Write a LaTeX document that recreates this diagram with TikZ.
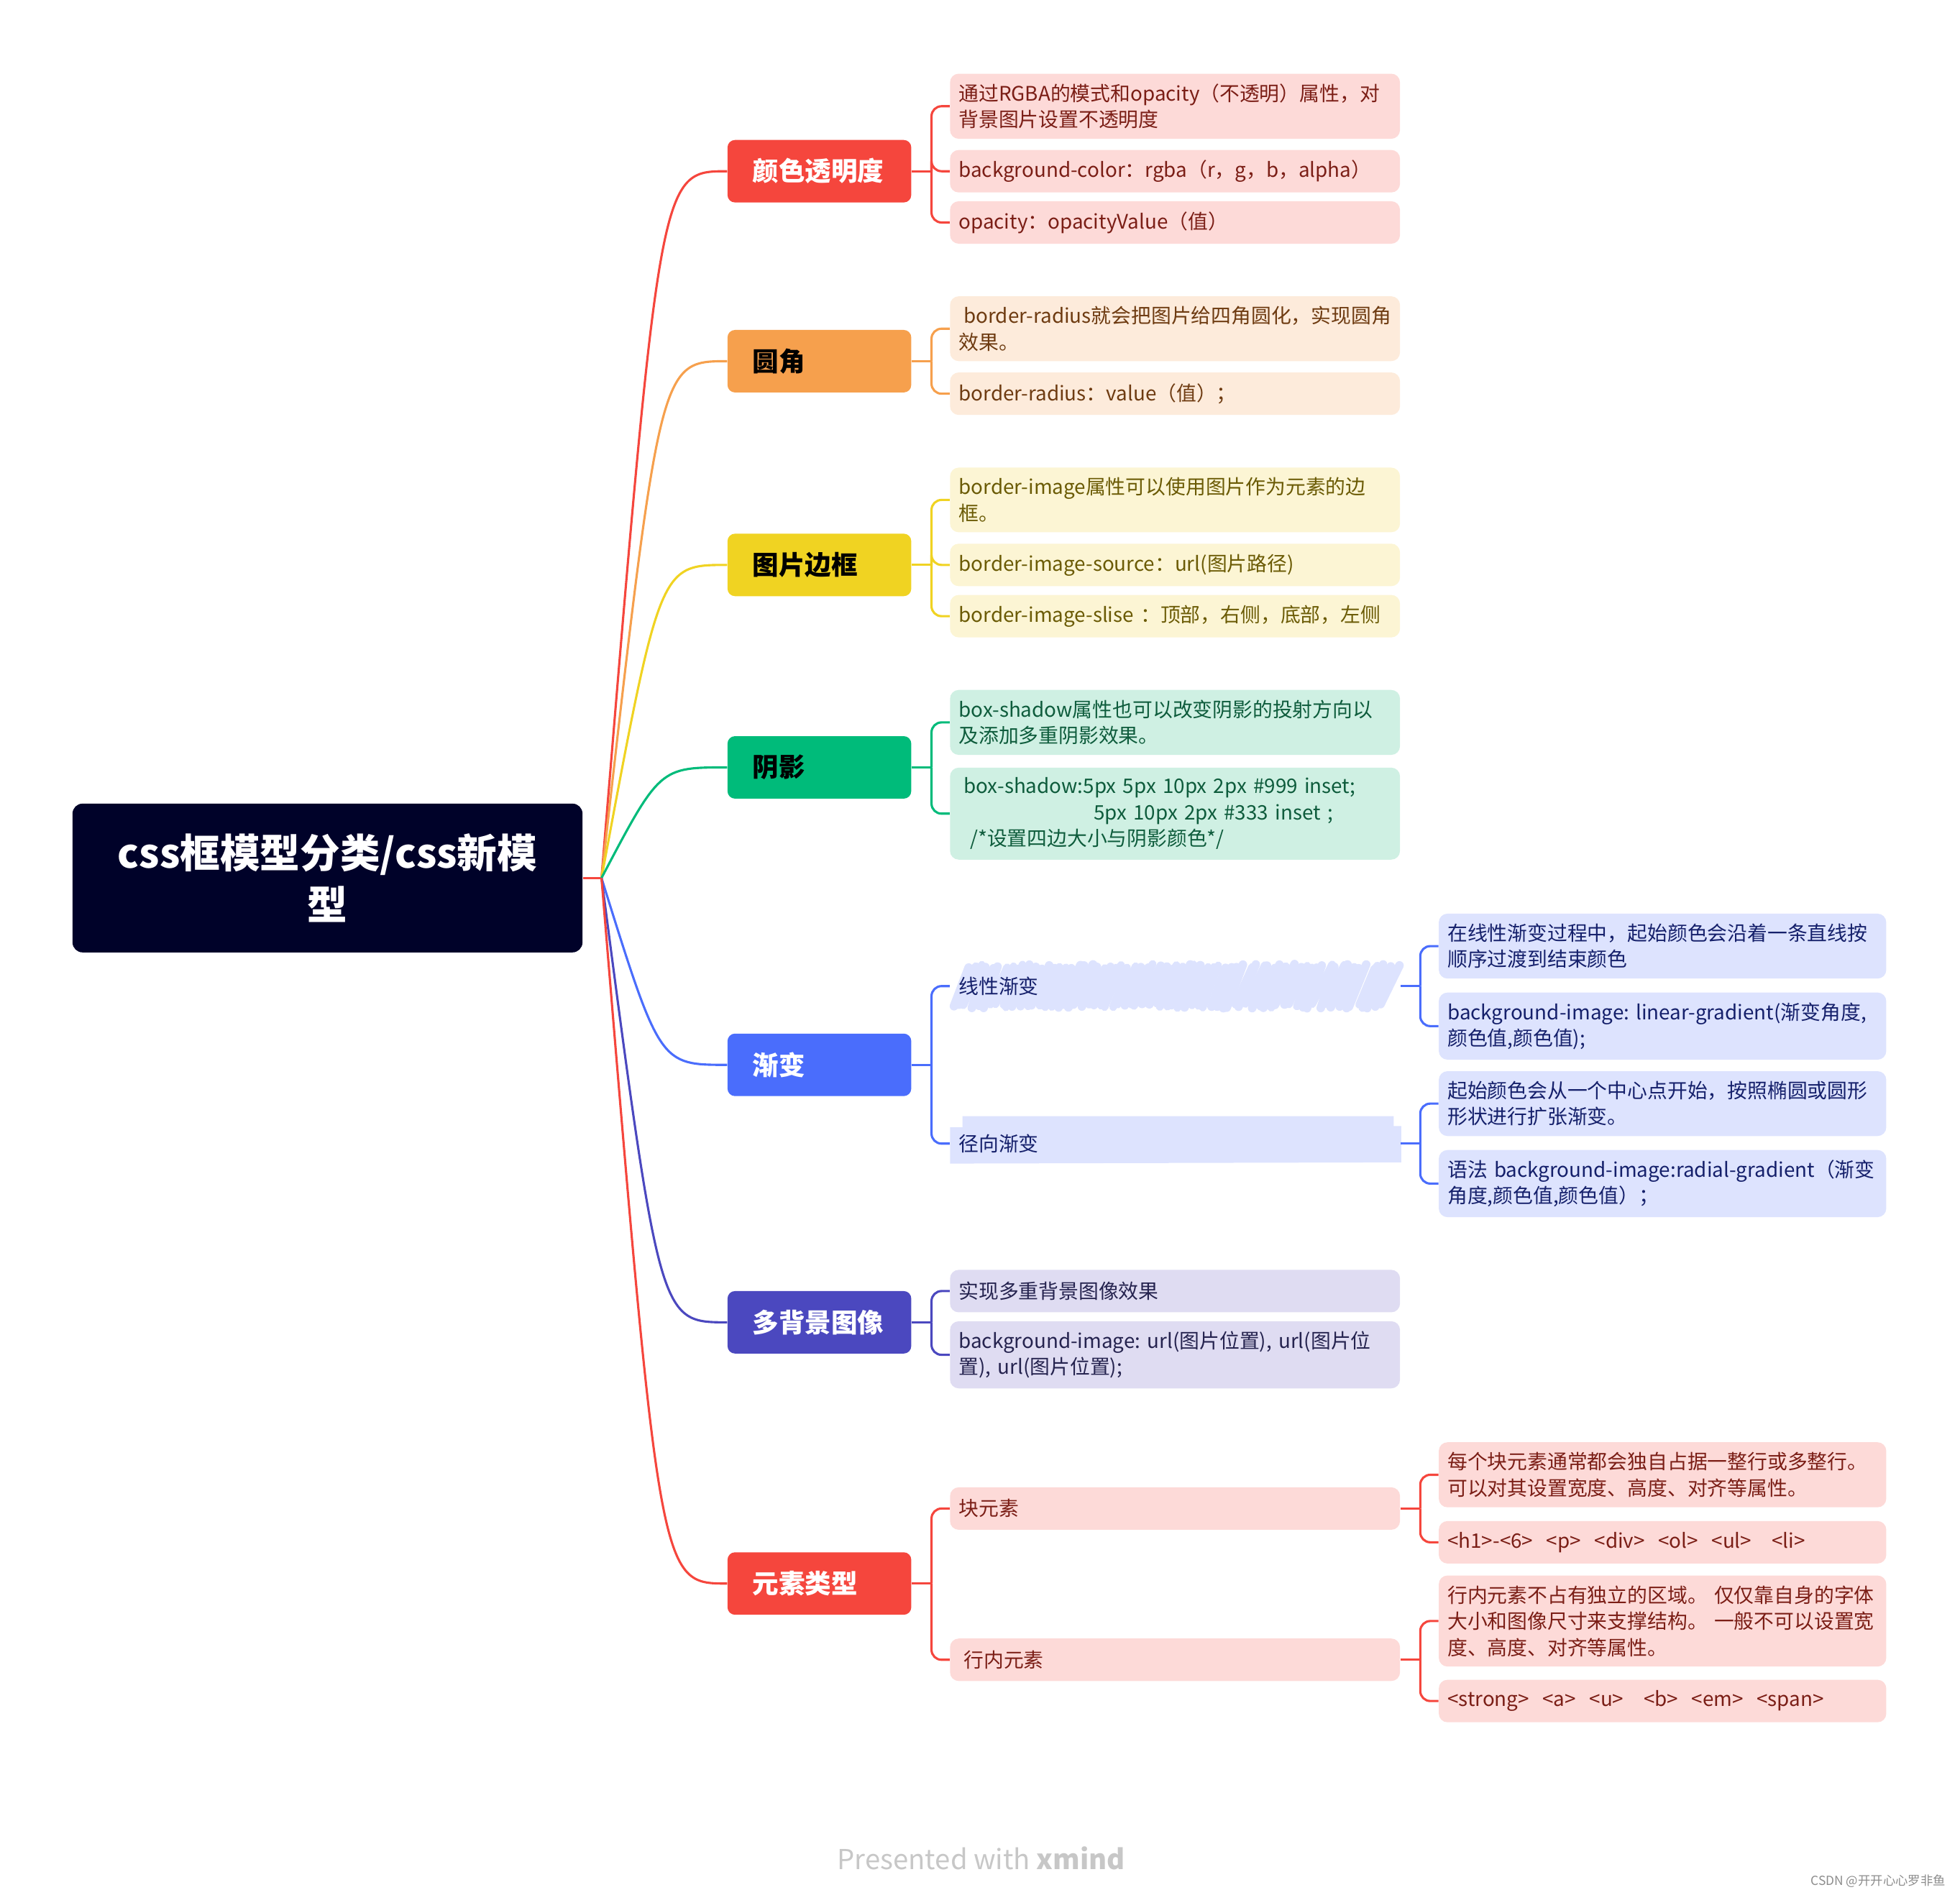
\documentclass[tikz,border=0pt]{standalone}
\usepackage{fontspec}
\setmainfont{Noto Sans CJK SC}
\usepackage{xcolor}
\usetikzlibrary{positioning}
\hyphenpenalty=10000
\exhyphenpenalty=10000

\definecolor{rootC}{HTML}{000229}
\definecolor{redC}{HTML}{F5463D}
\definecolor{orangeC}{HTML}{F6A04D}
\definecolor{yellowC}{HTML}{F0D322}
\definecolor{greenC}{HTML}{00BB7A}
\definecolor{blueC}{HTML}{4A6DFC}
\definecolor{indigoC}{HTML}{4B48BF}
\definecolor{redL}{HTML}{FDDAD8}
\definecolor{orangeL}{HTML}{FDEBDB}
\definecolor{yellowL}{HTML}{FCF5D4}
\definecolor{greenL}{HTML}{CFF0E3}
\definecolor{blueL}{HTML}{DDE3FE}
\definecolor{indigoL}{HTML}{DFDCF2}
\definecolor{redT}{HTML}{7B1E16}
\definecolor{orangeT}{HTML}{6E3B11}
\definecolor{yellowT}{HTML}{6B5B05}
\definecolor{greenT}{HTML}{0E5C3C}
\definecolor{blueT}{HTML}{15206B}
\definecolor{indigoT}{HTML}{25234F}

\begin{document}
\begin{tikzpicture}[x=1pt,y=-1pt,
  root/.style={fill=rootC,rounded corners=8,text=white,align=center,
               minimum width=408,minimum height=119,
               font=\fontsize{32}{41}\selectfont\bfseries},
  topic/.style={rounded corners=6,text width=107,inner xsep=20,
               minimum height=50,align=left,
               font=\fontsize{21}{26}\selectfont\bfseries},
  leaf/.style={rounded corners=7,text width=346,inner xsep=7,inner ysep=8,
               minimum height=34,align=left,
               font=\fontsize{16}{21}\selectfont},
  twig/.style={leaf,text width=344},
  link/.style={line width=1.8,rounded corners=8},
  trunk/.style={line width=1.8}
]
\useasboundingbox (0,0) rectangle (1568,1516);

% root
\node[root] (root) at (262,702.5) {css框模型分类/css新模\\型};
\coordinate[right=15pt of root] (rj);
\draw[link,redC] (root.east) -- (rj);

% main topics
\node[topic,fill=redC,text=white] (t1) at (655.5,137) {颜色透明度};
\node[topic,fill=orangeC] (t2) at (655.5,289) {圆角};
\node[topic,fill=yellowC] (t3) at (655.5,452) {图片边框};
\node[topic,fill=greenC] (t4) at (655.5,614) {阴影};
\node[topic,fill=blueC,text=white] (t5) at (655.5,852) {渐变};
\node[topic,fill=indigoC,text=white] (t6) at (655.5,1058) {多背景图像};
\node[topic,fill=redC,text=white] (t7) at (655.5,1267) {元素类型};

\draw[trunk,redC] (rj) .. controls ([xshift=-54pt]t1.west) and ([xshift=-54pt]t1.west) .. (t1.west);
\draw[trunk,orangeC] (rj) .. controls ([xshift=-54pt]t2.west) and ([xshift=-54pt]t2.west) .. (t2.west);
\draw[trunk,yellowC] (rj) .. controls ([xshift=-54pt]t3.west) and ([xshift=-54pt]t3.west) .. (t3.west);
\draw[trunk,greenC] (rj) .. controls ([xshift=-54pt]t4.west) and ([xshift=-54pt]t4.west) .. (t4.west);
\draw[trunk,blueC] (rj) .. controls ([xshift=-54pt]t5.west) and ([xshift=-54pt]t5.west) .. (t5.west);
\draw[trunk,indigoC] (rj) .. controls ([xshift=-54pt]t6.west) and ([xshift=-54pt]t6.west) .. (t6.west);
\draw[trunk,redC] (rj) .. controls ([xshift=-54pt]t7.west) and ([xshift=-54pt]t7.west) .. (t7.west);

% 颜色透明度
\node[leaf,fill=redL,text=redT] (c11) at (940,85)
  {通过RGBA的模式和opacity（不透明）属性，对\\背景图片设置不透明度};
\node[leaf,fill=redL,text=redT] (c12) at (940,137) {background-color：rgba（r，g，b，alpha）};
\node[leaf,fill=redL,text=redT] (c13) at (940,178) {opacity：opacityValue（值）};
\coordinate[right=16pt of t1] (j1);
\draw[link,redC] (t1.east) -- (j1);
\foreach \c in {c11,c12,c13} \draw[link,redC] (\c.west) -| (j1);

% 圆角
\node[leaf,fill=orangeL,text=orangeT] (c21) at (940,263)
  {\hspace{4pt}border-radius就会把图片给四角圆化，实现圆角\\效果。};
\node[leaf,fill=orangeL,text=orangeT] (c22) at (940,315) {border-radius：value（值）；};
\coordinate[right=16pt of t2] (j2);
\draw[link,orangeC] (t2.east) -- (j2);
\foreach \c in {c21,c22} \draw[link,orangeC] (\c.west) -| (j2);

% 图片边框
\node[leaf,fill=yellowL,text=yellowT] (c31) at (940,400)
  {border-image属性可以使用图片作为元素的边\\框。};
\node[leaf,fill=yellowL,text=yellowT] (c32) at (940,452) {border-image-source：url(图片路径)};
\node[leaf,fill=yellowL,text=yellowT] (c33) at (940,493) {border-image-slise~：顶部，右侧，底部，左侧};
\coordinate[right=16pt of t3] (j3);
\draw[link,yellowC] (t3.east) -- (j3);
\foreach \c in {c31,c32,c33} \draw[link,yellowC] (\c.west) -| (j3);

% 阴影
\node[leaf,fill=greenL,text=greenT] (c41) at (940,578)
  {box-shadow属性也可以改变阴影的投射方向以\\及添加多重阴影效果。};
\node[leaf,fill=greenL,text=greenT] (c42) at (940,651)
  {\hspace{4pt}box-shadow:5px~5px~10px~2px~\#999~inset;\\
   \hspace{108pt}5px~10px~2px~\#333~inset~;\\
   \hspace{9pt}/*设置四边大小与阴影颜色*/};
\coordinate[right=16pt of t4] (j4);
\draw[link,greenC] (t4.east) -- (j4);
\foreach \c in {c41,c42} \draw[link,greenC] (\c.west) -| (j4);

% 渐变
\pgfmathsetseed{11}
\foreach \k in {0,...,70}{
  \pgfmathsetmacro{\ja}{rand*1.8}
  \pgfmathsetmacro{\jb}{rand*1.8}
  \draw[blueL,line width={5.8+rnd*1.6},line cap=round]
    ({762+\k*4.9+\ja},{805+\jb}) -- ({775+\k*4.9-\jb},{773+\ja});
}
\fill[blueL] (760,902) -- (770,902) -- (770,893) -- (1115,893) -- (1115,901)
  -- (1121,901) -- (1121,930) -- (760,931) -- cycle;
\node[leaf,text=blueT] (c51) at (940,789) {线性渐变};
\node[leaf,text=blueT] (c52) at (940,915) {径向渐变};
\coordinate[right=16pt of t5] (j5);
\draw[link,blueC] (t5.east) -- (j5);
\foreach \c in {c51,c52} \draw[link,blueC] (\c.west) -| (j5);

\node[twig,fill=blueL,text=blueT] (d511) at (1330,757)
  {在线性渐变过程中，起始颜色会沿着一条直线按\\顺序过渡到结束颜色};
\node[twig,fill=blueL,text=blueT] (d512) at (1330,821)
  {background-image:~linear-gradient(渐变角度,\\颜色值,颜色值);};
\coordinate[right=16pt of c51] (j51);
\draw[link,blueC] (c51.east) -- (j51);
\foreach \c in {d511,d512} \draw[link,blueC] (\c.west) -| (j51);

\node[twig,fill=blueL,text=blueT] (d521) at (1330,883)
  {起始颜色会从一个中心点开始，按照椭圆或圆形\\形状进行扩张渐变。};
\node[twig,fill=blueL,text=blueT] (d522) at (1330,947)
  {语法~background-image:radial-gradient（渐变\\角度,颜色值,颜色值）；};
\coordinate[right=16pt of c52] (j52);
\draw[link,blueC] (c52.east) -- (j52);
\foreach \c in {d521,d522} \draw[link,blueC] (\c.west) -| (j52);

% 多背景图像
\node[leaf,fill=indigoL,text=indigoT] (c61) at (940,1033) {实现多重背景图像效果};
\node[leaf,fill=indigoL,text=indigoT] (c62) at (940,1084)
  {background-image:~url(图片位置),~url(图片位\\置),~url(图片位置);};
\coordinate[right=16pt of t6] (j6);
\draw[link,indigoC] (t6.east) -- (j6);
\foreach \c in {c61,c62} \draw[link,indigoC] (\c.west) -| (j6);

% 元素类型
\node[leaf,fill=redL,text=redT] (c71) at (940,1207) {块元素};
\node[leaf,fill=redL,text=redT] (c72) at (940,1328) {\hspace{4pt}行内元素};
\coordinate[right=16pt of t7] (j7);
\draw[link,redC] (t7.east) -- (j7);
\foreach \c in {c71,c72} \draw[link,redC] (\c.west) -| (j7);

\node[twig,fill=redL,text=redT] (d711) at (1330,1180)
  {每个块元素通常都会独自占据一整行或多整行。\\可以对其设置宽度、高度、对齐等属性。};
\node[twig,fill=redL,text=redT] (d712) at (1330,1234)
  {<h1>-<6>~~<p>~~<div>~~<ol>~~<ul>~~~<li>};
\coordinate[right=16pt of c71] (j71);
\draw[link,redC] (c71.east) -- (j71);
\foreach \c in {d711,d712} \draw[link,redC] (\c.west) -| (j71);

\node[twig,fill=redL,text=redT] (d721) at (1330,1297)
  {行内元素不占有独立的区域。~仅仅靠自身的字体\\大小和图像尺寸来支撑结构。~一般不可以设置宽\\度、高度、对齐等属性。};
\node[twig,fill=redL,text=redT] (d722) at (1330,1361)
  {<strong>~~<a>~~<u>~~~<b>~~<em>~~<span>};
\coordinate[right=16pt of c72] (j72);
\draw[link,redC] (c72.east) -- (j72);
\foreach \c in {d721,d722} \draw[link,redC] (\c.west) -| (j72);

% footer
\node[text=black!22,font=\fontsize{22}{26}\selectfont] (credit) at (785,1487)
  {Presented with \textbf{xmind}};
\node[text=black!45,font=\fontsize{10}{12}\selectfont,anchor=east] (mark) at (1560,1505)
  {CSDN @开开心心罗非鱼};
\end{tikzpicture}
\end{document}
